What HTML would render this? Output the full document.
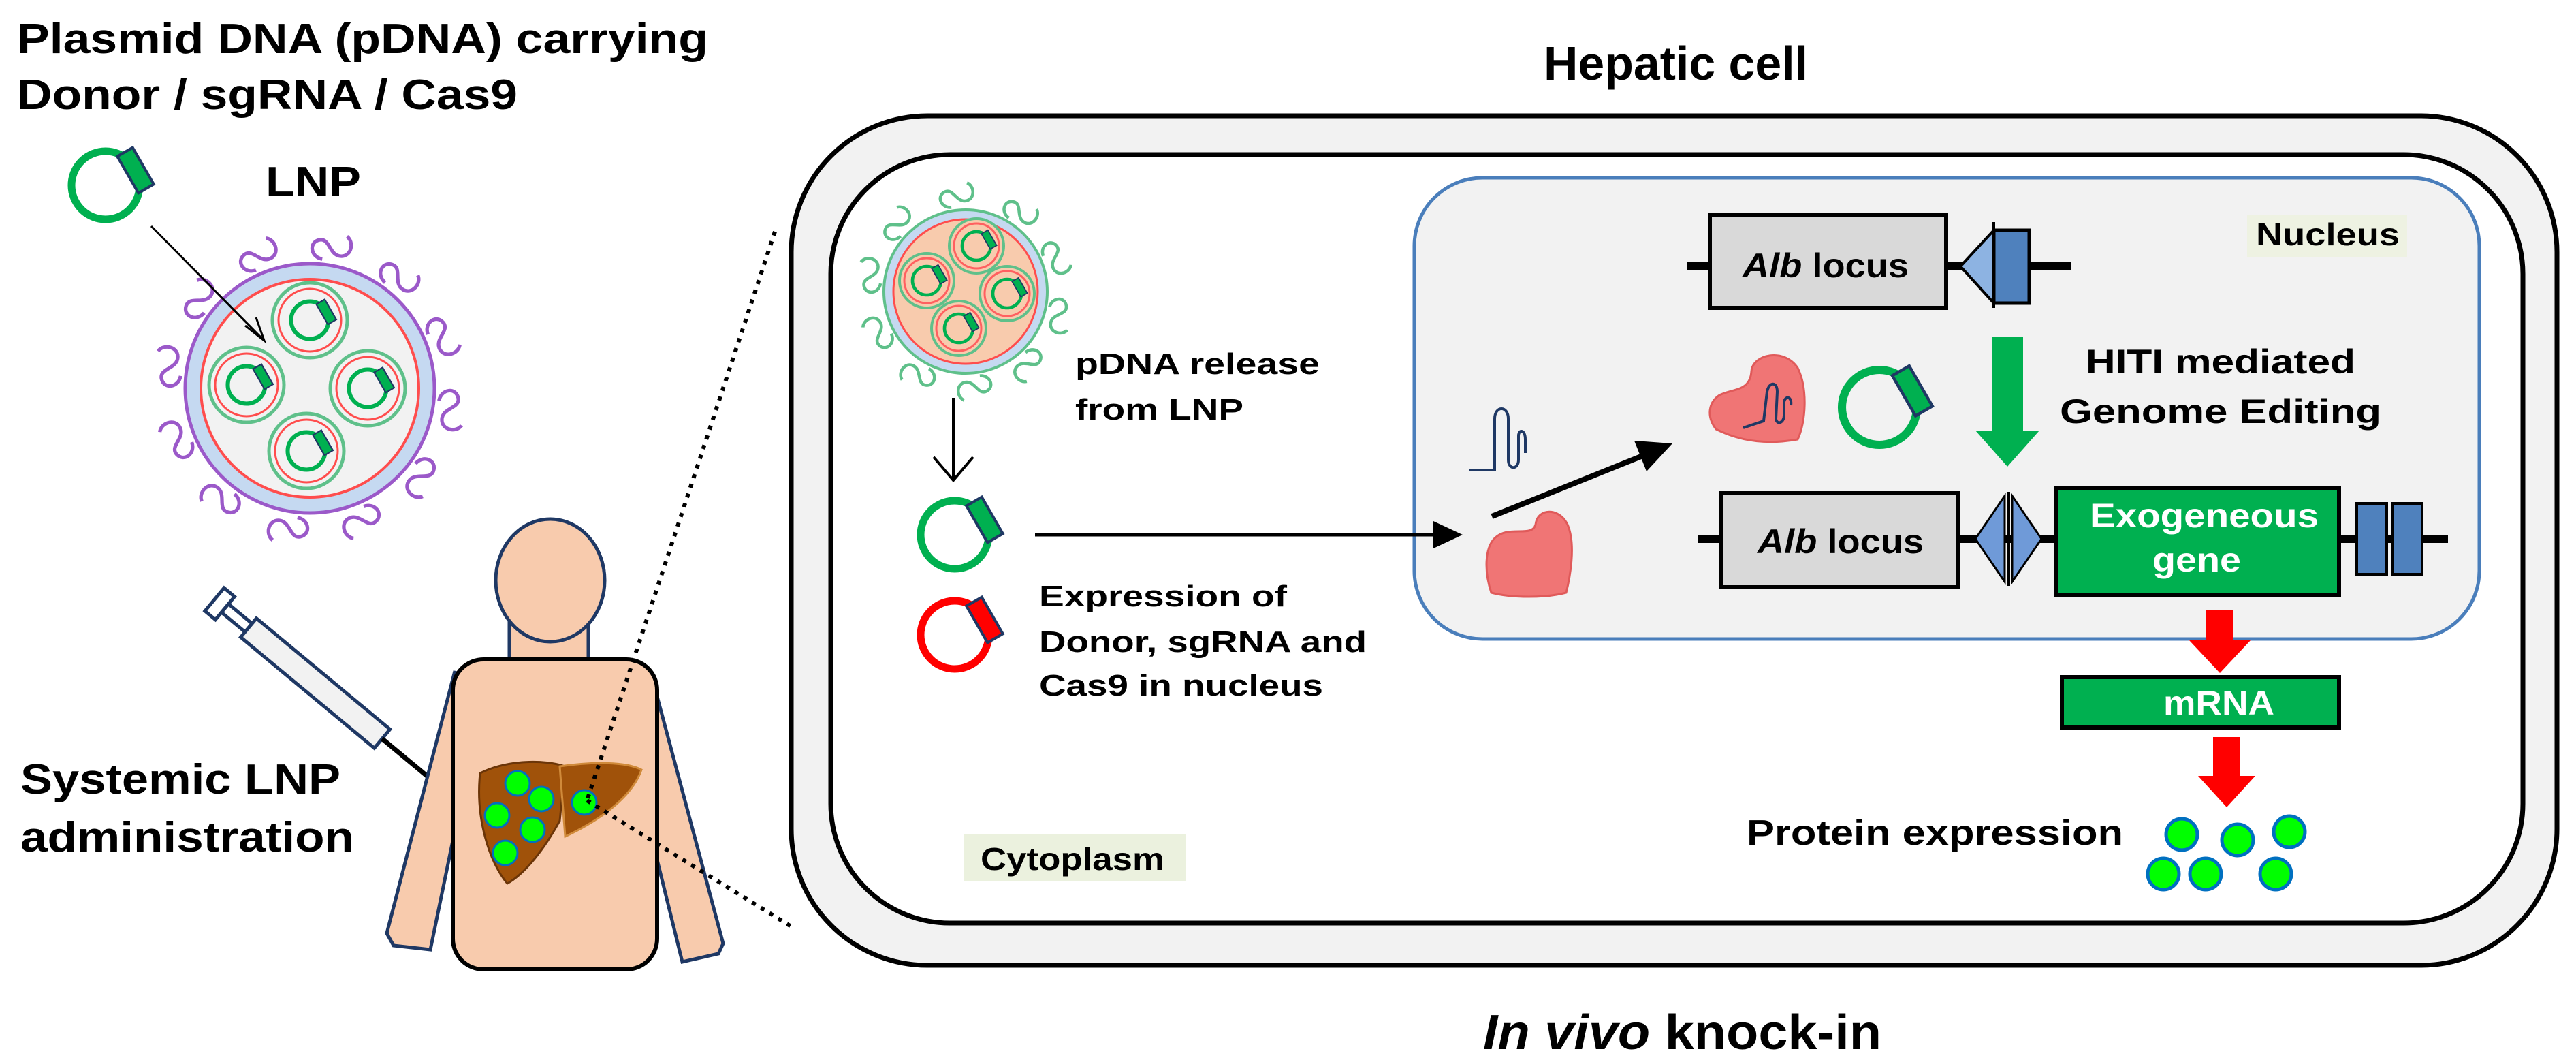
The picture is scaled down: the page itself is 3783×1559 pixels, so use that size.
<!DOCTYPE html>
<html><head><meta charset="utf-8"><style>html,body{margin:0;padding:0;background:#fff}svg{display:block}text{font-family:"Liberation Sans",Arial,sans-serif;font-weight:bold;fill:#000}</style></head>
<body>
<svg width="3783" height="1559" viewBox="0 0 3783 1559" xmlns="http://www.w3.org/2000/svg">
<defs>
<g id="pl"><circle r="50" fill="none" stroke="#00b050" stroke-width="11"/><rect x="-13" y="-31" width="26" height="62" fill="#00b050" stroke="#1f3864" stroke-width="4" transform="translate(44,-22) rotate(-30)"/></g>
<g id="plr"><circle r="50" fill="none" stroke="#ff0000" stroke-width="11"/><rect x="-13" y="-31" width="26" height="62" fill="#ff0000" stroke="#1f3864" stroke-width="4" transform="translate(44,-22) rotate(-30)"/></g>
<g id="ves"><circle r="55" fill="#f2f2f2" stroke="#5fc08a" stroke-width="5"/><circle r="46" fill="none" stroke="#ff4d4d" stroke-width="3"/><g transform="scale(0.55)"><use href="#pl"/></g></g>
<g id="vesc"><circle r="40" fill="#f8cbad" stroke="#5fc08a" stroke-width="4"/><circle r="33" fill="none" stroke="#ff6060" stroke-width="3"/><g transform="scale(0.42)"><use href="#pl"/></g></g>
<path id="sq" d="M0,0 c0,-12 14,-16 18,-6 c4,10 -14,12 -12,24 c2,10 16,10 20,2" fill="none" stroke-width="3.5"/>
<marker id="ao" markerWidth="12" markerHeight="12" refX="10" refY="6" orient="auto" markerUnits="userSpaceOnUse" viewBox="0 0 12 12"><path d="M0,0 L10,6 L0,12" fill="none" stroke="#000" stroke-width="1.5"/></marker>
</defs>

<text x="25" y="78" font-size="62" textLength="1015" lengthAdjust="spacingAndGlyphs">Plasmid DNA (pDNA) carrying</text>
<text x="25" y="160" font-size="62" textLength="735" lengthAdjust="spacingAndGlyphs">Donor / sgRNA / Cas9</text>
<use href="#pl" x="155" y="272"/>
<text x="390" y="288" font-size="62" textLength="140" lengthAdjust="spacingAndGlyphs">LNP</text>

<g stroke="#9b59c9" fill="none">
<g transform="translate(455,570)">
<use href="#sq" transform="rotate(-80) translate(190,-15) scale(1.5)"/>
<use href="#sq" transform="rotate(-50) translate(190,-15) scale(1.5)"/>
<use href="#sq" transform="rotate(-20) translate(190,-15) scale(1.5)"/>
<use href="#sq" transform="rotate(10) translate(190,-15) scale(1.5)"/>
<use href="#sq" transform="rotate(40) translate(190,-15) scale(1.5)"/>
<use href="#sq" transform="rotate(70) translate(190,-15) scale(1.5)"/>
<use href="#sq" transform="rotate(100) translate(190,-15) scale(1.5)"/>
<use href="#sq" transform="rotate(130) translate(190,-15) scale(1.5)"/>
<use href="#sq" transform="rotate(160) translate(190,-15) scale(1.5)"/>
<use href="#sq" transform="rotate(190) translate(190,-15) scale(1.5)"/>
<use href="#sq" transform="rotate(220) translate(190,-15) scale(1.5)"/>
<use href="#sq" transform="rotate(250) translate(190,-15) scale(1.5)"/>
</g></g>
<circle cx="455" cy="570" r="183" fill="#c5d9f1" stroke="#9b59c9" stroke-width="5"/>
<circle cx="455" cy="570" r="160" fill="#f2f2f2" stroke="#ff4d4d" stroke-width="4"/>
<use href="#ves" x="455" y="470"/>
<use href="#ves" x="362" y="565"/>
<use href="#ves" x="540" y="570"/>
<use href="#ves" x="450" y="662"/>
<line x1="222" y1="332" x2="386" y2="498" stroke="#000" stroke-width="3"/>
<path d="M360,478 L388,500 L376,466" fill="none" stroke="#000" stroke-width="3"/>

<g transform="translate(315,880) rotate(39.7)" stroke="#1f3864" stroke-width="5" fill="#fff">
<rect x="0" y="-22" width="20" height="44"/>
<rect x="20" y="-8" width="45" height="16"/>
<rect x="65" y="-18" width="255" height="36" fill="#f2f2f2"/>
<line x1="320" y1="0" x2="422" y2="0" stroke="#000" stroke-width="7"/>
</g>
<text x="30" y="1165" font-size="62" textLength="470" lengthAdjust="spacingAndGlyphs">Systemic LNP</text>
<text x="30" y="1250" font-size="62" textLength="490" lengthAdjust="spacingAndGlyphs">administration</text>

<g fill="#f8cbad" stroke="#1f3864" stroke-width="5">
<polygon points="668,985 568,1370 578,1388 632,1394 672,1200"/>
<polygon points="955,985 1062,1385 1055,1400 1002,1412 962,1250"/>
<rect x="748" y="900" width="116" height="80"/>
<ellipse cx="808" cy="852" rx="80" ry="90"/>
</g>
<rect x="665" y="968" width="300" height="455" rx="45" fill="#f8cbad" stroke="#000" stroke-width="6"/>
<path d="M705,1135 C745,1115 800,1115 830,1125 L822,1205 C800,1245 772,1282 745,1297 C718,1265 698,1200 705,1135 Z" fill="#a0520a" stroke="#6b3508" stroke-width="3"/>
<path d="M822,1125 C870,1118 920,1118 942,1130 C930,1165 890,1200 830,1228 Z" fill="#a0520a" stroke="#d08a3a" stroke-width="3"/>
<g fill="#00ff00" stroke="#0070c0" stroke-width="3">
<circle cx="760" cy="1150" r="18"/><circle cx="795" cy="1173" r="18"/><circle cx="730" cy="1197" r="18"/><circle cx="782" cy="1218" r="18"/><circle cx="742" cy="1252" r="18"/><circle cx="858" cy="1178" r="18"/>
</g>
<g stroke="#000" stroke-width="6" stroke-dasharray="6,9" fill="none">
<line x1="1138" y1="340" x2="862" y2="1175"/>
<line x1="862" y1="1175" x2="1165" y2="1362"/>
</g>

<text x="2267" y="117" font-size="70" textLength="388" lengthAdjust="spacingAndGlyphs">Hepatic cell</text>
<rect x="1162" y="170" width="2593" height="1247" rx="200" fill="#f2f2f2" stroke="#000" stroke-width="7"/>
<rect x="1220" y="227" width="2485" height="1128" rx="175" fill="#fff" stroke="#000" stroke-width="7"/>
<rect x="2077" y="261" width="1564" height="677" rx="100" fill="#f2f2f2" stroke="#4a7ebb" stroke-width="5"/>
<rect x="3300" y="315" width="235" height="62" fill="#eef2e2"/>
<text x="3313" y="360" font-size="46" textLength="211" lengthAdjust="spacingAndGlyphs">Nucleus</text>
<rect x="1415" y="1225" width="326" height="68" fill="#ebf1de"/>
<text x="1440" y="1277" font-size="46" textLength="270" lengthAdjust="spacingAndGlyphs">Cytoplasm</text>

<g stroke="#5fc08a" fill="none">
<g transform="translate(1418,428)">
<use href="#sq" transform="rotate(-95) translate(125,-10) scale(1.3)"/>
<use href="#sq" transform="rotate(-55) translate(125,-10) scale(1.3)"/>
<use href="#sq" transform="rotate(-20) translate(125,-10) scale(1.3)"/>
<use href="#sq" transform="rotate(15) translate(125,-10) scale(1.3)"/>
<use href="#sq" transform="rotate(50) translate(125,-10) scale(1.3)"/>
<use href="#sq" transform="rotate(85) translate(125,-10) scale(1.3)"/>
<use href="#sq" transform="rotate(120) translate(125,-10) scale(1.3)"/>
<use href="#sq" transform="rotate(155) translate(125,-10) scale(1.3)"/>
<use href="#sq" transform="rotate(190) translate(125,-10) scale(1.3)"/>
<use href="#sq" transform="rotate(225) translate(125,-10) scale(1.3)"/>
</g></g>
<circle cx="1418" cy="428" r="120" fill="#c5d9f1" stroke="#5fc08a" stroke-width="4"/>
<circle cx="1418" cy="428" r="106" fill="#f8cbad" stroke="#ff4d4d" stroke-width="3"/>
<use href="#vesc" x="1434" y="361"/>
<use href="#vesc" x="1361" y="412"/>
<use href="#vesc" x="1479" y="431"/>
<use href="#vesc" x="1408" y="482"/>
<text x="1579" y="549" font-size="44" textLength="359" lengthAdjust="spacingAndGlyphs">pDNA release</text>
<text x="1579" y="616" font-size="44" textLength="247" lengthAdjust="spacingAndGlyphs">from LNP</text>
<line x1="1400" y1="584" x2="1400" y2="705" stroke="#000" stroke-width="4"/>
<path d="M1371,671 L1400,705 L1429,671" fill="none" stroke="#000" stroke-width="4"/>
<use href="#pl" x="1402" y="785"/>
<use href="#plr" x="1402" y="932"/>
<text x="1526" y="890" font-size="44" textLength="364" lengthAdjust="spacingAndGlyphs">Expression of</text>
<text x="1526" y="957" font-size="44" textLength="481" lengthAdjust="spacingAndGlyphs">Donor, sgRNA and</text>
<text x="1526" y="1021" font-size="44" textLength="417" lengthAdjust="spacingAndGlyphs">Cas9 in nucleus</text>
<line x1="1520" y1="785" x2="2110" y2="785" stroke="#000" stroke-width="5"/>
<polygon points="2105,765 2148,785 2105,805" fill="#000"/>

<path d="M2158,690 L2195,690 L2195,615 C2195,595 2215,595 2215,615 L2215,675 C2215,690 2230,690 2230,675 L2230,640 C2230,630 2240,630 2240,645 L2240,665" fill="none" stroke="#1f3864" stroke-width="4"/>
<line x1="2191" y1="758" x2="2420" y2="666" stroke="#000" stroke-width="8"/>
<polygon points="2400,647 2456,651 2418,692" fill="#000"/>
<path d="M2195,790 C2215,770 2250,790 2255,770 C2258,745 2290,745 2302,770 C2315,800 2305,850 2300,870 C2270,878 2220,878 2190,870 C2180,840 2180,805 2195,790 Z" fill="#f07575" stroke="#e05a5a" stroke-width="3"/>
<path d="M2525,580 C2545,570 2570,575 2572,545 C2574,520 2620,510 2640,540 C2655,570 2652,620 2640,645 C2600,652 2560,650 2520,630 C2505,610 2510,590 2525,580 Z" fill="#f07575" stroke="#e05a5a" stroke-width="3"/>
<path d="M2560,628 L2590,618 L2595,575 C2598,560 2610,560 2610,575 L2608,615 C2610,625 2620,620 2620,610 L2620,590 C2622,580 2632,582 2630,595" fill="none" stroke="#1f3864" stroke-width="4"/>
<g transform="translate(2760,598) scale(1.1)"><use href="#pl"/></g>

<line x1="2478" y1="391" x2="3042" y2="391" stroke="#000" stroke-width="12"/>
<rect x="2511" y="315" width="347" height="137" fill="#d9d9d9" stroke="#000" stroke-width="6"/>
<text x="2559" y="407" font-size="50" textLength="244" lengthAdjust="spacingAndGlyphs"><tspan font-style="italic">Alb</tspan> locus</text>
<polygon points="2879,391 2928,338 2928,445" fill="#8db3e2" stroke="#000" stroke-width="4"/>
<rect x="2928" y="338" width="52" height="107" fill="#4f81bd" stroke="#000" stroke-width="5"/>
<line x1="2928" y1="326" x2="2928" y2="452" stroke="#000" stroke-width="4"/>

<polygon points="2926,494 2971,494 2971,632 2995,632 2948,685 2901,632 2926,632" fill="#00b050"/>
<text x="3063" y="548" font-size="50" textLength="396" lengthAdjust="spacingAndGlyphs">HITI mediated</text>
<text x="3025" y="621" font-size="50" textLength="472" lengthAdjust="spacingAndGlyphs">Genome  Editing</text>

<line x1="2494" y1="791" x2="3595" y2="791" stroke="#000" stroke-width="12"/>
<rect x="2527" y="724" width="349" height="138" fill="#d9d9d9" stroke="#000" stroke-width="6"/>
<text x="2581" y="812" font-size="50" textLength="244" lengthAdjust="spacingAndGlyphs"><tspan font-style="italic">Alb</tspan> locus</text>
<polygon points="2901,791 2944,728 2944,854" fill="#6f9ad8" stroke="#000" stroke-width="3"/>
<polygon points="2998,791 2955,728 2955,854" fill="#6f9ad8" stroke="#000" stroke-width="3"/>
<line x1="2950" y1="722" x2="2950" y2="860" stroke="#000" stroke-width="4"/>
<rect x="3020" y="716" width="415" height="157" fill="#00b050" stroke="#000" stroke-width="6"/>
<text x="3069" y="774" font-size="50" style="fill:#fff" textLength="336" lengthAdjust="spacingAndGlyphs">Exogeneous</text>
<text x="3161" y="839" font-size="50" style="fill:#fff" textLength="130" lengthAdjust="spacingAndGlyphs">gene</text>
<rect x="3461" y="739" width="44" height="104" fill="#4f81bd" stroke="#000" stroke-width="4"/>
<rect x="3513" y="739" width="44" height="104" fill="#4f81bd" stroke="#000" stroke-width="4"/>

<polygon points="3240,895 3280,895 3280,940 3305,940 3260,988 3215,940 3240,940" fill="#ff0000"/>
<rect x="3028" y="994" width="407" height="74" fill="#00b050" stroke="#000" stroke-width="6"/>
<text x="3177" y="1049" font-size="50" style="fill:#fff" textLength="163" lengthAdjust="spacingAndGlyphs">mRNA</text>
<polygon points="3250,1082 3290,1082 3290,1139 3312,1139 3270,1185 3228,1139 3250,1139" fill="#ff0000"/>
<text x="2565" y="1240" font-size="52" textLength="553" lengthAdjust="spacingAndGlyphs">Protein expression</text>
<g fill="#00ff00" stroke="#0070c0" stroke-width="5">
<circle cx="3204" cy="1225" r="23"/><circle cx="3286" cy="1233" r="23"/><circle cx="3362" cy="1221" r="23"/>
<circle cx="3177" cy="1283" r="23"/><circle cx="3239" cy="1283" r="23"/><circle cx="3342" cy="1283" r="23"/>
</g>

<text x="2178" y="1540" font-size="72" textLength="585" lengthAdjust="spacingAndGlyphs"><tspan font-style="italic">In vivo</tspan> knock-in</text>
</svg>
</body></html>
